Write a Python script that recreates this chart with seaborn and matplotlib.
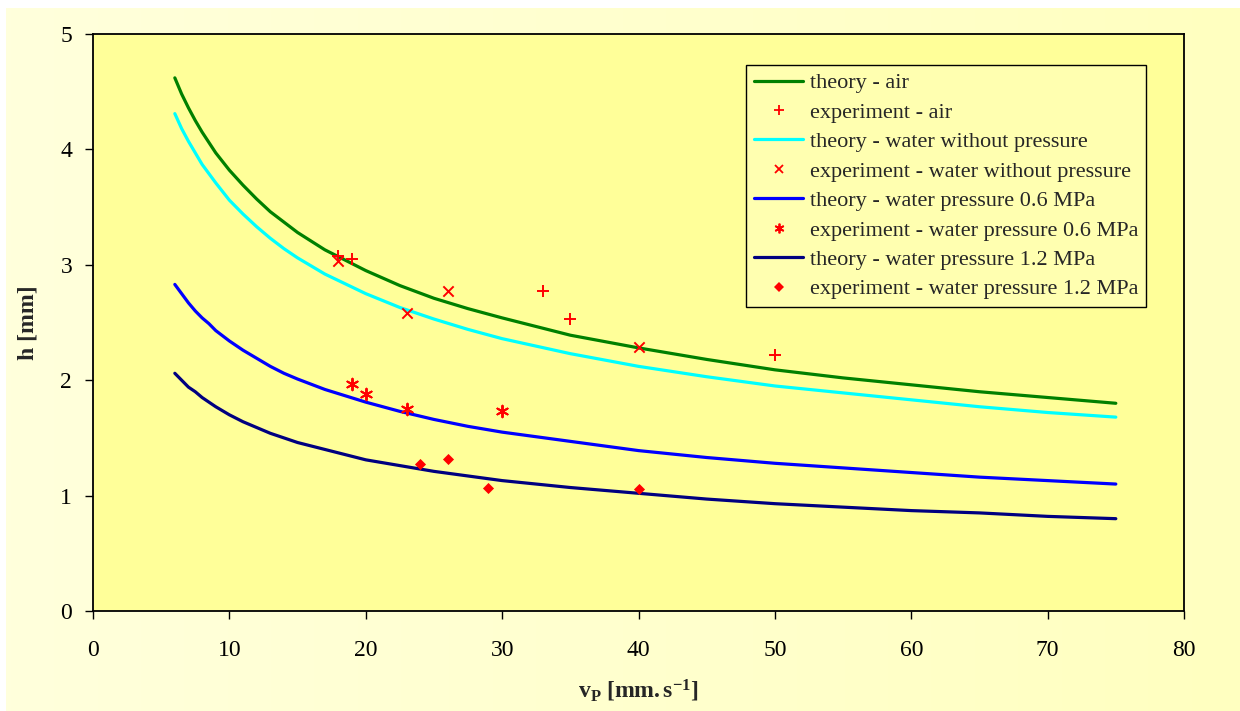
import numpy as np
import pandas as pd
import matplotlib
matplotlib.use("Agg")
import matplotlib.pyplot as plt
import seaborn as sns
from matplotlib.colors import LinearSegmentedColormap
from matplotlib.lines import Line2D

# ---- data ----
v_theory = [6, 6.5, 7, 7.5, 8, 8.5, 9, 10, 11, 12, 13, 14, 15, 17, 20, 22.5, 25, 27.5,
            30, 35, 40, 45, 50, 55, 60, 65, 70, 75]
h_air = [4.62, 4.48, 4.36, 4.25, 4.15, 4.06, 3.97, 3.82, 3.69, 3.57, 3.46, 3.37, 3.28, 3.13,
         2.95, 2.82, 2.71, 2.62, 2.54, 2.39, 2.28, 2.18, 2.09, 2.02, 1.96, 1.90, 1.85, 1.80]
h_water = [4.31, 4.18, 4.07, 3.97, 3.87, 3.79, 3.71, 3.56, 3.44, 3.33, 3.23, 3.14, 3.06, 2.92,
           2.75, 2.63, 2.53, 2.44, 2.36, 2.23, 2.12, 2.03, 1.95, 1.89, 1.83, 1.77, 1.72, 1.68]
h_p06 = [2.83, 2.75, 2.67, 2.60, 2.54, 2.49, 2.43, 2.34, 2.26, 2.19, 2.12, 2.06, 2.01, 1.92,
         1.81, 1.73, 1.66, 1.60, 1.55, 1.47, 1.39, 1.33, 1.28, 1.24, 1.20, 1.16, 1.13, 1.10]
h_p12 = [2.06, 2.00, 1.94, 1.90, 1.85, 1.81, 1.77, 1.70, 1.64, 1.59, 1.54, 1.50, 1.46, 1.40,
         1.31, 1.26, 1.21, 1.17, 1.13, 1.07, 1.02, 0.97, 0.93, 0.90, 0.87, 0.85, 0.82, 0.80]

v_exp_air = [18, 19, 33, 35, 50]
h_exp_air = [3.08, 3.05, 2.77, 2.53, 2.22]
v_exp_water = [18, 23, 26, 40]
h_exp_water = [3.03, 2.58, 2.77, 2.29]
v_exp_p06 = [19, 20, 23, 30]
h_exp_p06 = [1.97, 1.88, 1.75, 1.73]
v_exp_p12 = [24, 26, 29, 40]
h_exp_p12 = [1.27, 1.32, 1.07, 1.06]

labels = ["theory - air", "experiment - air",
          "theory - water without pressure", "experiment - water without pressure",
          "theory - water pressure 0.6 MPa", "experiment - water pressure 0.6 MPa",
          "theory - water pressure 1.2 MPa", "experiment - water pressure 1.2 MPa"]
x_ticks = [0, 10, 20, 30, 40, 50, 60, 70, 80]
y_ticks = [0, 1, 2, 3, 4, 5]

sns.set_theme(style="white")
plt.rcParams['font.family'] = ['Liberation Serif', 'DejaVu Serif']
plt.rcParams['mathtext.fontset'] = 'custom'
plt.rcParams['mathtext.rm'] = 'Liberation Serif'
plt.rcParams['mathtext.bf'] = 'Liberation Serif:bold'
plt.rcParams['mathtext.it'] = 'Liberation Serif:italic'

W, H = 1240, 711
fig = plt.figure(figsize=(12.4, 7.11), dpi=100, facecolor='white')

# background gradient (chart area)
bg = fig.add_axes([6 / W, 0, 1 - 6 / W, 1 - 8 / H], zorder=-10)
grad = np.linspace(0, 1, 256)[None, :]
cmap = LinearSegmentedColormap.from_list("bg", ["#FFFFDC", "#FFFFC0"])
bg.imshow(grad, aspect='auto', cmap=cmap, extent=[0, 1, 0, 1])
bg.set_axis_off()

ax = fig.add_axes([93 / W, 1 - 611 / H, (1184 - 93) / W, (611 - 34) / H])
ax.set_facecolor('#FFFF99')

theory = [(h_air, '#008000'), (h_water, '#00FFFF'), (h_p06, '#0000FF'), (h_p12, '#000080')]
for (hv, col) in theory:
    df = pd.DataFrame({"v": v_theory, "h": hv})
    sns.lineplot(data=df, x="v", y="h", color=col, linewidth=2.3, ax=ax, sort=False)

exps = [(v_exp_air, h_exp_air, '+', 70, 1.4),
        (v_exp_water, h_exp_water, 'x', 55, 1.4),
        (v_exp_p06, h_exp_p06, (6, 2, 0), 70, 1.4),
        (v_exp_p12, h_exp_p12, 'D', 32, 0)]
for (vx, hy, mk, s, lw) in exps:
    df = pd.DataFrame({"v": vx, "h": hy})
    sns.scatterplot(data=df, x="v", y="h", marker=mk, s=s, color='#FF0000',
                    edgecolor='#FF0000' if mk == 'D' else None,
                    linewidth=lw, ax=ax, zorder=5)

ax.set_xlim(0, 80)
ax.set_ylim(0, 5)
ax.set_xticks(x_ticks)
ax.set_yticks(y_ticks)
ax.tick_params(axis='both', which='major', direction='out', length=6, width=1,
               color='black', labelsize=17, labelcolor='black',
               bottom=True, left=True)
ax.tick_params(axis='x', pad=15)
ax.tick_params(axis='y', pad=9)
for sp in ax.spines.values():
    sp.set_color('black')
    sp.set_linewidth(1.3)

ax.set_xlabel(r'$\mathbf{v_{P}\ [mm.s^{-1}]}$', fontsize=17, labelpad=12)
ax.set_ylabel('h [mm]', fontsize=17, fontweight='bold', labelpad=16)

handles = [
    Line2D([], [], color='#008000', lw=2.3),
    Line2D([], [], color='#FF0000', marker='+', ls='none', ms=7, mew=1.3),
    Line2D([], [], color='#00FFFF', lw=2.3),
    Line2D([], [], color='#FF0000', marker='x', ls='none', ms=6, mew=1.3),
    Line2D([], [], color='#0000FF', lw=2.3),
    Line2D([], [], color='#FF0000', marker=(6, 2, 0), ls='none', ms=7, mew=1.3),
    Line2D([], [], color='#000080', lw=2.3),
    Line2D([], [], color='#FF0000', marker='D', ls='none', ms=5, mew=0),
]
leg = ax.legend(handles, labels, loc='upper right',
                bbox_to_anchor=((1146 - 93) / 1091, (611 - 65) / 577),
                borderaxespad=0, fontsize=16, frameon=True, fancybox=False,
                edgecolor='black', facecolor='#FFFFB0', framealpha=1,
                handlelength=2.2, handletextpad=0.3, labelspacing=0.4,
                borderpad=0.35)
leg.get_frame().set_linewidth(1.0)

fig.savefig("out.png", dpi=100, facecolor=fig.get_facecolor())
